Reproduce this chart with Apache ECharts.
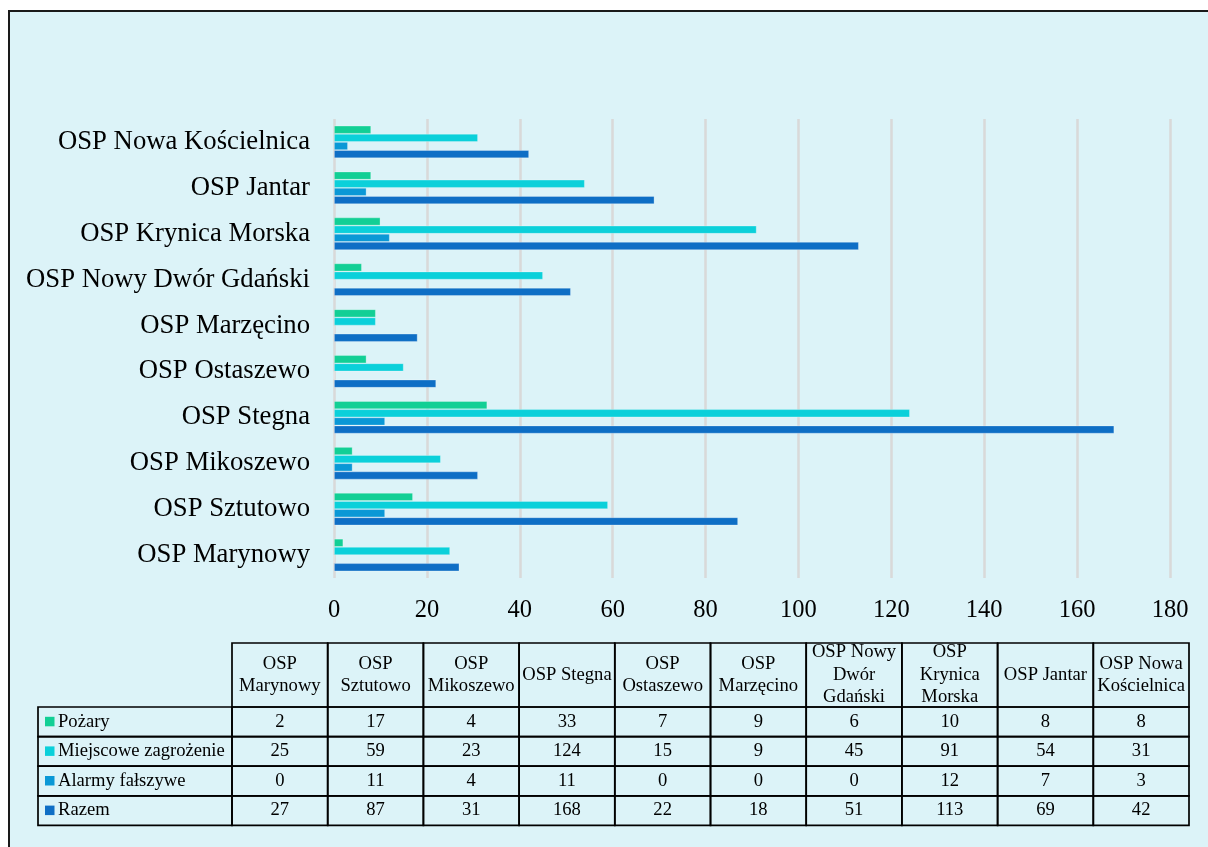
<!DOCTYPE html>
<html>
<head>
<meta charset="utf-8">
<script src="https://cdn.jsdelivr.net/npm/echarts@6/dist/echarts.min.js"></script>
<style>
html,body{margin:0;padding:0;background:#fff;}
#c{width:1208px;height:847px;}
</style>
</head>
<body>
<div id="c"></div>
<script>
// ---- data ----
const categories = ["OSP Marynowy","OSP Sztutowo","OSP Mikoszewo","OSP Stegna","OSP Ostaszewo","OSP Marzęcino","OSP Nowy Dwór Gdański","OSP Krynica Morska","OSP Jantar","OSP Nowa Kościelnica"];
const tableHeaders = ["OSP\nMarynowy","OSP\nSztutowo","OSP\nMikoszewo","OSP Stegna","OSP\nOstaszewo","OSP\nMarzęcino","OSP Nowy\nDwór\nGdański","OSP\nKrynica\nMorska","OSP Jantar","OSP Nowa\nKościelnica"];
const seriesNames = ["Pożary","Miejscowe zagrożenie","Alarmy fałszywe","Razem"];
const pozary = [2,17,4,33,7,9,6,10,8,8];
const miejscowe = [25,59,23,124,15,9,45,91,54,31];
const alarmy = [0,11,4,11,0,0,0,12,7,3];
const razem = [27,87,31,168,22,18,51,113,69,42];
const xTicks = [0,20,40,60,80,100,120,140,160,180];

const seriesValues = [pozary, miejscowe, alarmy, razem];
const colors = ["#12CF95","#0BD0DA","#0A98D6","#0E6EC5"];
const FONT = '"Liberation Serif","Times New Roman",serif';
const TFS = 18.6;

const chart = echarts.init(document.getElementById('c'), null, {renderer:'canvas'});

// ---- table graphic ----
const T = {x0:38, x1:232, xEnd:1189, yHead:643, yHeadEnd:707, rowH:29.6};
const colW = (T.xEnd - T.x1) / tableHeaders.length;
const g = [];
// background frame
g.push({type:'rect', z:-100, shape:{x:9,y:11,width:1300,height:900},
  style:{fill:'#DCF3F8', stroke:'#1a1a1a', lineWidth:2}});
const lineStyle = {stroke:'#000', lineWidth:1.7, fill:null};
// header cells
tableHeaders.forEach((h,i)=>{
  const x = T.x1 + i*colW;
  g.push({type:'rect', z:50, shape:{x:x,y:T.yHead,width:colW,height:T.yHeadEnd-T.yHead}, style:Object.assign({},lineStyle)});
  g.push({type:'text', z:51, x:x+colW/2, y:(T.yHead+T.yHeadEnd)/2,
    style:{text:h, font:TFS+'px '+FONT, fill:'#000', align:'center', verticalAlign:'middle', lineHeight:22.5}});
});
// data rows
seriesNames.forEach((name,r)=>{
  const y = T.yHeadEnd + r*T.rowH;
  g.push({type:'rect', z:50, shape:{x:T.x0,y:y,width:T.x1-T.x0,height:T.rowH}, style:Object.assign({},lineStyle)});
  g.push({type:'rect', z:51, shape:{x:T.x0+7,y:y+T.rowH/2-5,width:9.5,height:9.5}, style:{fill:colors[r]}});
  g.push({type:'text', z:51, x:T.x0+20, y:y+T.rowH/2,
    style:{text:name, font:TFS+'px '+FONT, fill:'#000', align:'left', verticalAlign:'middle'}});
  seriesValues[r].forEach((v,i)=>{
    const x = T.x1 + i*colW;
    g.push({type:'rect', z:50, shape:{x:x,y:y,width:colW,height:T.rowH}, style:Object.assign({},lineStyle)});
    g.push({type:'text', z:51, x:x+colW/2, y:y+T.rowH/2,
      style:{text:String(v), font:TFS+'px '+FONT, fill:'#000', align:'center', verticalAlign:'middle'}});
  });
});

chart.setOption({
  backgroundColor:'#ffffff',
  animation:false,
  graphic:{elements:g},
  grid:{left:334, right:38, top:119, bottom:269, containLabel:false},
  xAxis:{
    type:'value', min:0, max:180, interval:20,
    axisLine:{show:false}, axisTick:{show:false},
    splitLine:{show:true, lineStyle:{color:'#D9D9D9', width:2.5}},
    axisLabel:{color:'#000', fontSize:24.5, fontFamily:FONT, margin:20,
      formatter:(v)=> xTicks.includes(v) ? String(v) : ''}
  },
  yAxis:{
    type:'category', data:categories,
    axisLine:{show:false}, axisTick:{show:false},
    axisLabel:{color:'#000', fontSize:26.7, fontFamily:FONT, margin:24}
  },
  series: seriesNames.map((n,i)=>({
    name:n, type:'bar', data:seriesValues[i],
    barGap:'0%', barCategoryGap:'29%',
    itemStyle:{color:colors[i], borderColor:'rgba(255,255,255,0.35)', borderWidth:0.8},
    emphasis:{disabled:true}
  }))
});
</script>
</body>
</html>
